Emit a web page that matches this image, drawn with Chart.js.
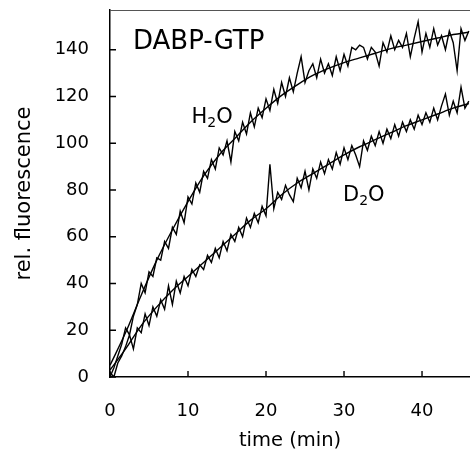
<!DOCTYPE html>
<html>
<head>
<meta charset="utf-8">
<script src="https://cdn.jsdelivr.net/npm/chart.js@4.4.1/dist/chart.umd.min.js"></script>
<style>
  body { margin: 0; background: #fff; }
</style>
</head>
<body>
<canvas id="myChart" width="470" height="456"></canvas>
<script>
// time points of the measured traces (min)
const time = [0, 0.5, 1, 1.5, 2, 2.5, 3, 3.5, 4, 4.5, 5, 5.5, 6, 6.5, 7, 7.5, 8, 8.5, 9, 9.5,
  10, 10.5, 11, 11.5, 12, 12.5, 13, 13.5, 14, 14.5, 15, 15.5, 16, 16.5, 17, 17.5, 18, 18.5, 19, 19.5,
  20, 20.5, 21, 21.5, 22, 22.5, 23, 23.5, 24, 24.5, 25, 25.5, 26, 26.5, 27, 27.5, 28, 28.5, 29, 29.5,
  30, 30.5, 31, 31.5, 32, 32.5, 33, 33.5, 34, 34.5, 35, 35.5, 36, 36.5, 37, 37.5, 38, 38.5, 39, 39.5,
  40, 40.5, 41, 41.5, 42, 42.5, 43, 43.5, 44, 44.5, 45, 45.5, 46];

const h2oData = [0, 4, 9, 14, 21, 18, 26, 31, 40, 36, 45, 43, 51, 50, 58, 55, 64, 61, 71, 66,
  77, 74, 83, 79, 88, 85, 93, 89, 98, 95, 101, 92, 105, 101, 109, 104, 113, 107, 115, 111,
  119, 114, 123, 117, 126, 120, 128, 122, 130, 137, 126, 131, 134, 128, 136, 130, 134, 129, 137, 131,
  138, 133, 141, 140, 142, 141, 136, 141, 139, 133, 143, 139, 146, 140, 144, 141, 147, 137, 145, 152,
  139, 147, 141, 149, 142, 146, 140, 148, 143, 131, 149, 144, 148];

const d2oData = [2, 0, 6, 9, 13, 18, 12, 21, 19, 27, 22, 30, 26, 33, 29, 39, 31, 41, 36, 43,
  39, 46, 43, 48, 46, 52, 49, 55, 51, 58, 54, 61, 58, 64, 60, 68, 64, 70, 66, 73,
  69, 91, 72, 79, 76, 82, 78, 75, 85, 81, 88, 80, 89, 85, 92, 87, 93, 89, 96, 91,
  98, 93, 99, 95, 90, 101, 97, 103, 99, 105, 100, 106, 102, 108, 103, 109, 105, 110, 106, 112,
  108, 113, 109, 115, 110, 116, 121, 112, 118, 113, 124, 115, 118];

// fitted curves
const fitTime = [0, 2, 4, 6, 8, 10, 12, 14, 16, 18, 20, 22, 24, 26, 28, 30, 32, 34, 36, 38, 40, 42, 44, 46];
const h2oFit = [5, 19, 35, 50, 63, 75, 86, 95, 102, 109, 115, 120.5, 125, 129, 132, 134.5, 136.5, 138.5, 140.5, 142, 143.5, 145, 146.5, 147.5];
const d2oFit = [3, 12, 22, 30, 37, 43, 49, 55, 61, 67, 72, 78, 83, 87, 91, 95, 98.5, 101.5, 104.5, 107.5, 110, 112.5, 115, 117];

const xTicks = [0, 10, 20, 30, 40];
const yTicks = [0, 20, 40, 60, 80, 100, 120, 140];

const FONT = "'DejaVu Sans', 'Liberation Sans', Arial, sans-serif";

function toPoints(xs, ys) {
  return xs.map((x, i) => ({ x: x, y: ys[i] }));
}

// inward tick marks, top frame line and text labels inside the plot
const extras = {
  id: "extras",
  afterDraw(chart) {
    const ctx = chart.ctx;
    const x = chart.scales.x;
    const y = chart.scales.y;
    const area = chart.chartArea;
    ctx.save();
    ctx.strokeStyle = "#000";
    ctx.lineWidth = 1.4;
    ctx.beginPath();
    xTicks.forEach((v) => {
      const px = x.getPixelForValue(v);
      ctx.moveTo(px, area.bottom);
      ctx.lineTo(px, area.bottom - 6);
    });
    yTicks.forEach((v) => {
      const py = y.getPixelForValue(v);
      ctx.moveTo(area.left, py);
      ctx.lineTo(area.left + 6, py);
    });
    ctx.stroke();

    ctx.strokeStyle = "#555";
    ctx.lineWidth = 1;
    ctx.beginPath();
    ctx.moveTo(area.left, area.top + 0.5);
    ctx.lineTo(area.right, area.top + 0.5);
    ctx.stroke();

    ctx.fillStyle = "#000";
    ctx.textBaseline = "alphabetic";
    ctx.textAlign = "left";
    ctx.font = "26px " + FONT;
    ctx.fillText("DABP-GTP", x.getPixelForValue(2.95), y.getPixelForValue(140.4));

    drawSub(ctx, "H", "2", "O", x.getPixelForValue(10.45), y.getPixelForValue(108.5));
    drawSub(ctx, "D", "2", "O", x.getPixelForValue(29.87), y.getPixelForValue(75.2));
    ctx.restore();
  }
};

function drawSub(ctx, a, sub, b, px, py) {
  ctx.font = "21px " + FONT;
  ctx.fillText(a, px, py);
  let w = ctx.measureText(a).width;
  ctx.font = "14px " + FONT;
  ctx.fillText(sub, px + w, py + 4);
  w += ctx.measureText(sub).width;
  ctx.font = "21px " + FONT;
  ctx.fillText(b, px + w, py);
}

const lineStyle = {
  borderColor: "#000",
  backgroundColor: "#000",
  pointRadius: 0,
  fill: false
};

const config = {
  type: "line",
  data: {
    datasets: [
      Object.assign({ label: "H2O", data: toPoints(time, h2oData), borderWidth: 1.4, tension: 0 }, lineStyle),
      Object.assign({ label: "H2O fit", data: toPoints(fitTime, h2oFit), borderWidth: 1.4, cubicInterpolationMode: "monotone" }, lineStyle),
      Object.assign({ label: "D2O", data: toPoints(time, d2oData), borderWidth: 1.4, tension: 0 }, lineStyle),
      Object.assign({ label: "D2O fit", data: toPoints(fitTime, d2oFit), borderWidth: 1.4, cubicInterpolationMode: "monotone" }, lineStyle)
    ]
  },
  options: {
    responsive: false,
    animation: false,
    layout: { padding: { top: 10, right: 0, left: 0, bottom: 0 } },
    plugins: { legend: { display: false }, tooltip: { enabled: false } },
    scales: {
      x: {
        type: "linear",
        min: 0,
        max: 46.15,
        grid: { display: false, drawTicks: false },
        border: { display: true, color: "#000", width: 1.5 },
        ticks: { color: "#000", font: { family: FONT, size: 18 }, padding: 24, maxRotation: 0 },
        title: { display: true, text: "time (min)", color: "#000", font: { family: FONT, size: 19.5 }, padding: { top: 0, bottom: 3 } },
        afterBuildTicks: (s) => { s.ticks = xTicks.map((v) => ({ value: v })); },
        afterFit: (s) => { s.height = 79; s.paddingLeft = 0; s.paddingRight = 0; }
      },
      y: {
        type: "linear",
        min: 0,
        max: 157,
        grid: { display: false, drawTicks: false },
        border: { display: true, color: "#000", width: 1.5 },
        ticks: { color: "#000", font: { family: FONT, size: 18 }, padding: 21 },
        title: { display: true, text: "rel. fluorescence", color: "#000", font: { family: FONT, size: 21 }, padding: { top: 12, bottom: 0 } },
        afterBuildTicks: (s) => { s.ticks = yTicks.map((v) => ({ value: v })); },
        afterFit: (s) => { s.width = 110; s.paddingTop = 0; s.paddingBottom = 0; }
      }
    }
  },
  plugins: [extras]
};

const myChart = new Chart(document.getElementById("myChart"), config);
</script>
</body>
</html>
